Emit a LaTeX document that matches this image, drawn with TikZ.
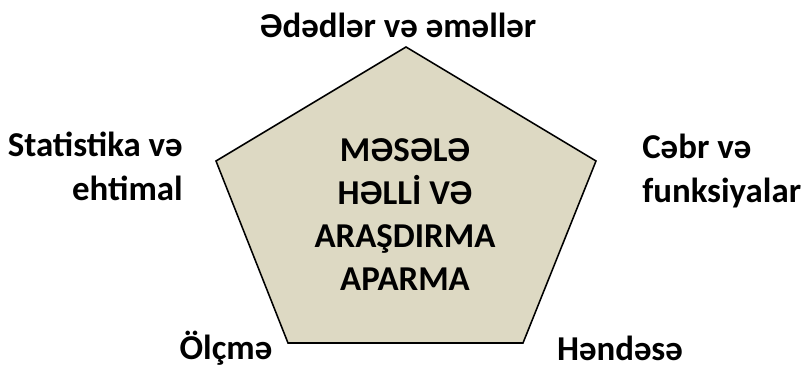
\documentclass[tikz,border=0pt]{standalone}
\usepackage{fontspec}
\setmainfont{Carlito}
\usepackage{tikz}
\usetikzlibrary{positioning}
\definecolor{tanfill}{HTML}{DDD9C3}
\tikzset{
    topic/.style = {font=\bfseries\fontsize{24.8}{30.8}\selectfont, inner sep=0pt},
    pent/.style = {draw=black, fill=tanfill, line width=1.1pt, line join=miter},
}

\begin{document}
\begin{tikzpicture}[x=0.025cm,y=-0.025cm]
\useasboundingbox (0,0) rectangle (801,367);
\coordinate (ptop) at (406,47);
\coordinate (pright) at (596,161);
\coordinate (pbr) at (523,343);
\coordinate (pbl) at (288,343);
\coordinate (pleft) at (216,161);
\draw[pent] (ptop) -- (pright) -- (pbr) -- (pbl) -- (pleft) -- cycle;
\node (core) [topic,align=center] at (405,214.5) {MƏSƏLƏ\\HƏLLİ VƏ\\ARAŞDIRMA\\APARMA};
\node (num)  [topic,anchor=base] at (398,38) {Ədədlər və əməllər};
\node (stat) [topic,align=right,anchor=north east] at (183,132) {Statistika və\\ehtimal};
\node (alg)  [topic,align=left,anchor=north west] at (642,134) {Cəbr və\\funksiyalar};
\node (meas) [topic,anchor=base] at (226,359) {Ölçmə};
\node (geo)  [topic,anchor=base] at (620,360) {Həndəsə};
\end{tikzpicture}
\end{document}
